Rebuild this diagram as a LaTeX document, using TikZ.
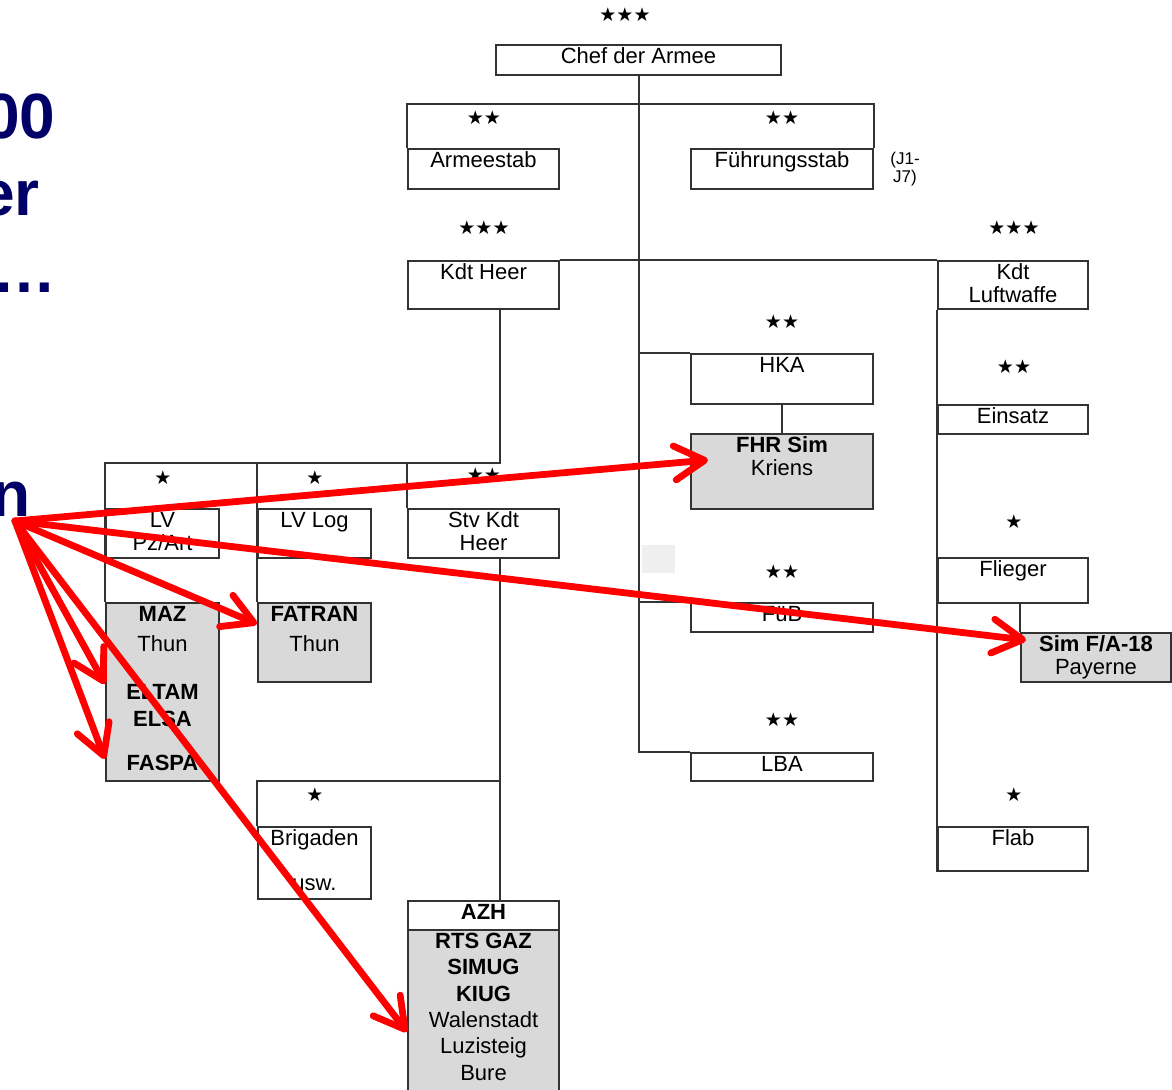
\documentclass[tikz,border=0pt]{standalone}
\usepackage{fontspec}
\setmainfont{Liberation Sans}
\newfontfamily\starfont{DejaVu Sans}
\usetikzlibrary{positioning,calc,arrows.meta}

\definecolor{navy}{HTML}{000066}
\definecolor{boxgray}{HTML}{D9D9D9}
\definecolor{ghost}{HTML}{EFEFEF}
\definecolor{rulegray}{HTML}{333333}

\tikzset{
  unit/.style={rectangle, draw=rulegray, line width=1pt, anchor=north west, inner sep=0pt},
  shaded/.style={unit, fill=boxgray},
  lbl/.style={anchor=north, inner sep=0pt, align=center,
    font=\fontsize{11}{11.5}\selectfont, execute at begin node=\rule{0pt}{8pt}},
  stars/.style={inner sep=0pt, font=\starfont\bfseries\fontsize{9.5}{10}\selectfont},
  conn/.style={draw=rulegray, line width=1pt},
  hint/.style={red, line width=3.4pt, line cap=round,
    -{Straight Barb[round,length=15pt,width=17pt]}},
  title/.style={anchor=base east, inner sep=0pt, text=navy,
    font=\fontsize{32}{38}\selectfont\bfseries}
}

\begin{document}
\begin{tikzpicture}[x=0.5pt,y=-0.5pt]
  \useasboundingbox (0,0) rectangle (1172,1089);
  \fill[white] (0,0) rectangle (1172,1089);
  \clip (0,0) rectangle (1172,1089);

  % slide title, cut off at the left edge
  \node[title] (tA) at (56,138) {00};
  \node[title] (tB) at (40,215) {er};
  \node[title] (tC) at (57,292) {…};
  \node[title] (tD) at (31,516) {n};

  % boxes
  \node[unit, minimum width=142.5pt, minimum height=15pt] (chef) at (495,44) {};
  \node[unit, minimum width=75.5pt, minimum height=20pt] (armee) at (407,148) {};
  \node[unit, minimum width=91pt, minimum height=20pt] (fuehr) at (690,148) {};
  \node[unit, minimum width=75.5pt, minimum height=24pt] (heer) at (407,260) {};
  \node[unit, minimum width=75pt, minimum height=24pt] (lw) at (937,260) {};
  \node[unit, minimum width=91pt, minimum height=25pt] (hka) at (690,353) {};
  \node[shaded, minimum width=91pt, minimum height=37.5pt] (fhr) at (690,433) {};
  \node[unit, minimum width=75pt, minimum height=14.5pt] (einsatz) at (937,404) {};
  \node[unit, minimum width=56.5pt, minimum height=24.5pt] (lvpz) at (105,508) {};
  \node[unit, minimum width=56.5pt, minimum height=24.5pt] (lvlog) at (257,508) {};
  \node[unit, minimum width=75.5pt, minimum height=24.5pt] (stv) at (407,508) {};
  \node[shaded, minimum width=56.5pt, minimum height=89pt] (maz) at (105,602) {};
  \node[shaded, minimum width=56.5pt, minimum height=39.5pt] (fatran) at (257,602) {};
  \node[unit, minimum width=91pt, minimum height=14.5pt] (fub) at (690,602) {};
  \node[unit, minimum width=75pt, minimum height=22.5pt] (flieger) at (937,557) {};
  \node[shaded, minimum width=75pt, minimum height=24.5pt] (sim) at (1020,632) {};
  \node[unit, minimum width=91pt, minimum height=14pt] (lba) at (690,752) {};
  \node[unit, minimum width=56.5pt, minimum height=36pt] (brig) at (257,826) {};
  \node[unit, minimum width=75pt, minimum height=22pt] (flab) at (937,826) {};
  \node[unit, minimum width=75.5pt, minimum height=14.5pt] (azh) at (407,900) {};
  \node[shaded, minimum width=75.5pt, minimum height=85pt] (azhsub) at (407,929) {};

  % box texts
  \node[lbl, below=1.75pt of chef.north] (tChef) {Chef der Armee};
  \node[lbl, below=1.75pt of armee.north] (tArmee) {Armeestab};
  \node[lbl, below=1.75pt of fuehr.north] (tFuehr) {Führungsstab};
  \node[lbl, font=\fontsize{8.5}{9}\selectfont, right=8pt of fuehr.east, execute at begin node={}] (tJ) {(J1-\\J7)};
  \node[lbl, below=1.75pt of heer.north] (tHeer) {Kdt Heer};
  \node[lbl, below=1.75pt of lw.north] (tLw) {Kdt\\Luftwaffe};
  \node[lbl, below=1.75pt of hka.north] (tHka) {HKA};
  \node[lbl, below=1.75pt of fhr.north] (tFhr) {\textbf{FHR Sim}\\Kriens};
  \node[lbl, below=1.75pt of einsatz.north] (tEinsatz) {Einsatz};
  \node[lbl, below=1.75pt of lvpz.north] (tLvpz) {LV\\Pz/Art};
  \node[lbl, below=1.75pt of lvlog.north] (tLvlog) {LV Log};
  \node[lbl, below=1.75pt of stv.north] (tStv) {Stv Kdt\\Heer};
  \node[lbl, below=1.75pt of maz.north] (tMaz)
    {\textbf{MAZ}\\[3.5pt]Thun\\[12.5pt]\textbf{ELTAM}\\[2pt]\textbf{ELSA}\\[10.5pt]\textbf{FASPA}};
  \node[lbl, below=1.75pt of fatran.north] (tFatran) {\textbf{FATRAN}\\[3.5pt]Thun};
  \node[lbl, below=1.75pt of fub.north] (tFub) {FüB};
  \node[lbl, below=1.75pt of flieger.north] (tFlieger) {Flieger};
  \node[lbl, below=1.75pt of sim.north] (tSim) {\textbf{Sim F/A-18}\\Payerne};
  \node[lbl, below=1.75pt of lba.north] (tLba) {LBA};
  \node[lbl, below=1.75pt of brig.north] (tBrig) {Brigaden\\[11pt]usw.};
  \node[lbl, below=1.75pt of flab.north] (tFlab) {Flab};
  \node[lbl, below=1.75pt of azh.north] (tAzh) {\textbf{AZH}};
  \node[lbl, below=1.75pt of azhsub.north] (tAzhsub)
    {\textbf{RTS GAZ}\\[1.7pt]\textbf{SIMUG}\\[1.7pt]\textbf{KIUG}\\[1.7pt]Walenstadt\\[1.7pt]Luzisteig\\[1.7pt]Bure};

  % ranks
  \node[stars] (s1) at (625,15) {★★★};
  \node[stars] (s2) at (484,118) {★★};
  \node[stars] (s3) at (782,118) {★★};
  \node[stars] (s4) at (484,228) {★★★};
  \node[stars] (s5) at (1014,228) {★★★};
  \node[stars] (s6) at (782,322) {★★};
  \node[stars] (s7) at (1014,367) {★★};
  \node[stars] (s8) at (163,478) {★};
  \node[stars] (s9) at (315,478) {★};
  \node[stars] (s10) at (484,475) {★★};
  \node[stars] (s11) at (1014,522) {★};
  \node[stars] (s12) at (782,572) {★★};
  \node[stars] (s13) at (782,720) {★★};
  \node[stars] (s14) at (315,795) {★};
  \node[stars] (s15) at (1014,795) {★};

  % lines of command
  \coordinate (bus) at (105,463);
  \coordinate (brigbus) at (257,781);
  \coordinate (azhline) at ([xshift=-30pt]azh.north east);
  \draw[conn] (chef.south) |- (lba.north west);
  \draw[conn] (armee.north west) -- ++(0,-44) -| (fuehr.north east);
  \draw[conn] (heer.north east) -- (lw.north west);
  \draw[conn] ([xshift=-30pt]heer.south east) |- (bus) -- (maz.north west);
  \draw[conn] (bus -| lvlog.west) -- (fatran.north west);
  \draw[conn] (bus -| stv.west) -- (stv.north west);
  \draw[conn] ([xshift=-30pt]stv.south east) -- (azhline);
  \draw[conn] (brig.north west) |- (azhline |- brigbus);
  \draw[conn] (chef.south |- hka.north) -- (hka.north west);
  \draw[conn] (chef.south |- fub.north) -- (fub.north west);
  \draw[conn] (hka.south) -- (fhr.north);
  \draw[conn] (lw.south west) -- (flab.south west);
  \draw[conn] (sim.north west |- flieger.south) -- (sim.north west);

  \fill[ghost] (642,545) rectangle (675,573);

  % pointers to the simulators
  \coordinate (src) at (15,521);
  \draw[hint] (src) -- ([xshift=9pt,yshift=5.75pt]fhr.west);
  \draw[hint] (src) -- ([xshift=3pt,yshift=8.75pt]sim.west);
  \draw[hint] (src) -- ([yshift=9.25pt]fatran.west);
  \draw[hint] (src) -- ([yshift=4pt]maz.west);
  \draw[hint] (src) -- ([yshift=11.5pt]maz.south west);
  \draw[hint] (src) -- ([yshift=-51.5pt]azhsub.north west);
\end{tikzpicture}
\end{document}
